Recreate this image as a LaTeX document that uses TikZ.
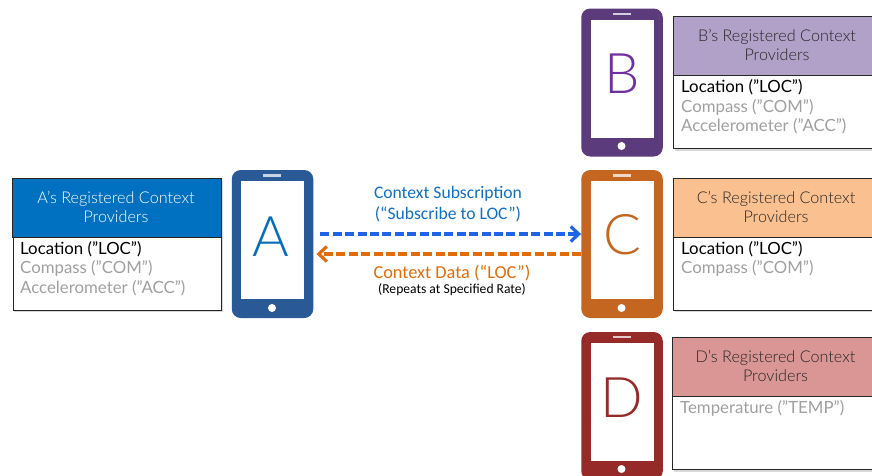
\documentclass[tikz,border=0pt]{standalone}
\usepackage{fontspec}
\setmainfont{Lato}
\newfontfamily\labelfont{Carlito}
\newfontfamily\lightfont{Lato Light}
\usetikzlibrary{shadows,arrows.meta}
\definecolor{blueA}{HTML}{2A5A96}
\definecolor{headA}{HTML}{0070C0}
\definecolor{purpB}{HTML}{5C3B7C}
\definecolor{letB}{HTML}{7030A0}
\definecolor{headB}{HTML}{B1A0C7}
\definecolor{orngC}{HTML}{C4661F}
\definecolor{headC}{HTML}{FAC090}
\definecolor{redD}{HTML}{962A28}
\definecolor{headD}{HTML}{D99694}
\definecolor{muted}{HTML}{A0A0A0}
\definecolor{subblue}{HTML}{0F6FC6}
\definecolor{arrblue}{HTML}{1F63E6}
\definecolor{arrorng}{HTML}{E36C0A}
\tikzset{
  x=1pt,y=-1pt,
  phonebody/.style={draw=none,fill=#1,rounded corners=9pt,minimum width=81.5pt,minimum height=148pt,inner sep=0pt},
  screen/.style={fill=white,draw=none,minimum width=63pt,minimum height=118pt,inner sep=0pt},
  speaker/.style={fill=white,opacity=.75,draw=none,minimum width=18pt,minimum height=2.4pt,inner sep=0pt},
  homebtn/.style={circle,fill=white,draw=none,minimum size=8pt,inner sep=0pt},
  phoneletter/.style={font=\lightfont\fontsize{56}{60}\selectfont},
  tablebody/.style={draw=black!85,line width=1pt,fill=white,minimum width=#1,minimum height=131.5pt,inner sep=0pt,
    drop shadow={shadow xshift=1pt,shadow yshift=-2pt,opacity=.3}},
  tablehead/.style={draw=black!85,line width=1pt,fill=#1,inner sep=0pt},
  headtext/.style={font=\lightfont\fontsize{16.2}{19}\selectfont,align=center,text=#1},
  itemtext/.style={font=\fontsize{16.8}{19.5}\selectfont,anchor=west,inner sep=0pt,text=#1},
  link/.style={line width=3.2pt,dash pattern=on 9pt off 3.4pt,
    -{Straight Barb[length=8pt,width=15pt,line width=3.2pt]}},
  sublabel/.style={font=\labelfont\fontsize{#1}{21}\selectfont,align=center},
  smalllabel/.style={font=\labelfont\fontsize{13.6}{15}\selectfont,text=black},
}
\begin{document}
\begin{tikzpicture}
\useasboundingbox (0,0) rectangle (872,475);
\clip (0,0) rectangle (872,475);

% ---------- phone A
\node[phonebody=blueA] (A) at (272.5,244) {};
\node[screen] (Ascr) at (272.5,240) {};
\node[speaker] (Aspk) at (272,175.5) {};
\node[homebtn] (Abtn) at (272,308) {};
\node[phoneletter,text=headA!85!blueA] (Alet) at (271,237) {A};

% ---------- phone B
\node[phonebody=purpB] (B) at (622,82.5) {};
\node[screen] (Bscr) at (622,78.5) {};
\node[speaker] (Bspk) at (621.5,14) {};
\node[homebtn] (Bbtn) at (621.5,146) {};
\node[phoneletter,text=letB] (Blet) at (622.5,74) {B};

% ---------- phone C
\node[phonebody=orngC] (C) at (622,244) {};
\node[screen] (Cscr) at (622,240) {};
\node[speaker] (Cspk) at (621.5,175.5) {};
\node[homebtn] (Cbtn) at (621.5,308) {};
\node[phoneletter,text=orngC] (Clet) at (622,235) {C};

% ---------- phone D
\node[phonebody=redD] (D) at (622,406) {};
\node[screen] (Dscr) at (622,402) {};
\node[speaker] (Dspk) at (621.5,337) {};
\node[homebtn] (Dbtn) at (621.5,469) {};
\node[phoneletter,text=redD] (Dlet) at (622,398) {D};

% ---------- table A
\node[tablebody=208.5pt,anchor=north west] (Ta) at (12.5,178) {};
\draw[tablehead=headA] (12.5,178) rectangle (221,237);
\node[headtext=white] (Tah) at (116,207) {A’s Registered Context\\Providers};
\node[itemtext=black] (Ta1) at (20,249) {Location (”LOC”)};
\node[itemtext=muted] (Ta2) at (20,268.5) {Compass (”COM”)};
\node[itemtext=muted] (Ta3) at (20,288) {Accelerometer (”ACC”)};

% ---------- table B
\node[tablebody=210pt,anchor=north west] (Tb) at (673,16.5) {};
\draw[tablehead=headB] (673,16.5) rectangle (883,75);
\node[headtext=black!85] (Tbh) at (777,45) {B’s Registered Context\\Providers};
\node[itemtext=black] (Tb1) at (681,87.5) {Location (”LOC”)};
\node[itemtext=muted] (Tb2) at (681,107) {Compass (”COM”)};
\node[itemtext=muted] (Tb3) at (681,126.5) {Accelerometer (”ACC”)};

% ---------- table C
\node[tablebody=210pt,anchor=north west] (Tc) at (673,178) {};
\draw[tablehead=headC] (673,178) rectangle (883,237);
\node[headtext=black!85] (Tch) at (776,207) {C’s Registered Context\\Providers};
\node[itemtext=black] (Tc1) at (681,249) {Location (”LOC”)};
\node[itemtext=muted] (Tc2) at (681,268.5) {Compass (”COM”)};

% ---------- table D
\node[tablebody=212pt,anchor=north west] (Td) at (672,337.5) {};
\draw[tablehead=headD] (672,337.5) rectangle (884,396);
\node[headtext=black!85] (Tdh) at (775.5,365.5) {D’s Registered Context\\Providers};
\node[itemtext=muted] (Td1) at (680,408) {Temperature (”TEMP”)};

% ---------- connectors
\draw[link,draw=arrblue,shorten <=7pt]
  ([yshift=10pt]A.east) -- ([yshift=10pt]C.west);
\draw[link,draw=arrorng,shorten >=3pt]
  ([yshift=-10pt]C.west) -- ([yshift=-10pt]A.east);

% ---------- connector labels
\node[sublabel=17.6,text=subblue] (Lsub) at (448,204.5) {Context Subscription\\(“Subscribe to LOC”)};
\node[sublabel=18.3,text=arrorng] (Ldat) at (452,273) {Context Data (“LOC”)};
\node[smalllabel] (Lrep) at (452,290) {(Repeats at Specified Rate)};
\end{tikzpicture}
\end{document}
